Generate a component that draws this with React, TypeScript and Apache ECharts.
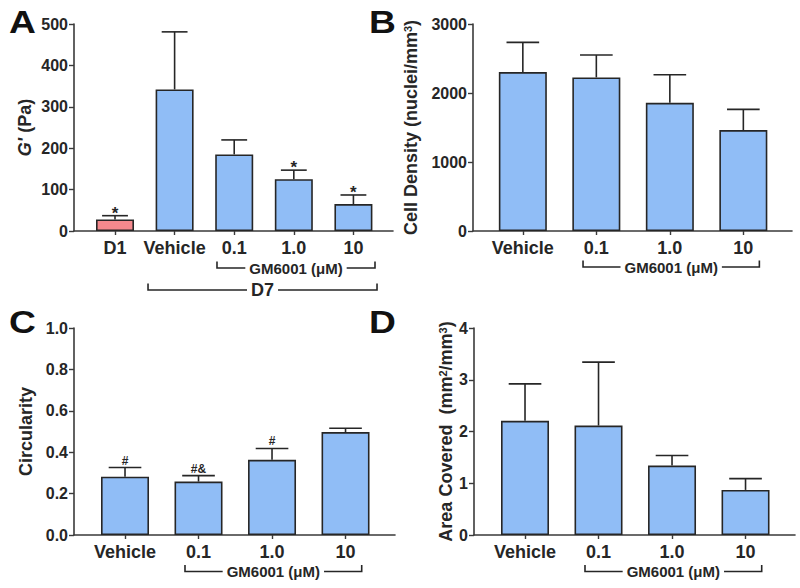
import React, { useEffect, useRef } from 'react';
import * as echarts from 'echarts';

// ---------- data ----------
const catsA = ['D1', 'Vehicle', '0.1', '1.0', '10'];
const modulusA = [28, 342, 185, 125, 65];
const modulusErrTopA = [37, 481, 220, 147, 87];
const sigA = ['*', '', '', '*', '*'];

const catsBCD = ['Vehicle', '0.1', '1.0', '10'];
const densityB = [2303, 2226, 1858, 1462];
const densityErrTopB = [2734, 2550, 2264, 1762];

const circularityC = [0.282, 0.258, 0.363, 0.497];
const circularityErrTopC = [0.326, 0.287, 0.418, 0.516];
const sigC = ['#', '#&', '#', ''];

const areaD = [2.206, 2.115, 1.342, 0.871];
const areaErrTopD = [2.92, 3.34, 1.535, 1.09];
const sigNone = ['', '', '', ''];

// ---------- styles ----------
const FONT = '"Liberation Sans", Arial, sans-serif';
const BLUE = '#90bdf6';
const PINK = '#f4898d';
const INK = '#262626';
const AXIS = '#3a3a3a';

type Panel = {
  cats: string[];
  values: number[];
  errTop: number[];
  sig: string[];
  colors: string[];
  grid: { left: number; top: number; width: number; height: number };
  xMin: number;
  xMax: number;
  barWidth: number;
  yMax: number;
  yInterval: number;
  yFmt: (v: number) => string;
  yName: string;
  yNameGap: number;
  sigSize: number;
};

const panels: Panel[] = [
  {
    cats: catsA, values: modulusA, errTop: modulusErrTopA, sig: sigA,
    colors: [PINK, BLUE, BLUE, BLUE, BLUE],
    grid: { left: 74, top: 24, width: 319, height: 207 },
    xMin: -0.688, xMax: 4.664, barWidth: 38,
    yMax: 500, yInterval: 100, yFmt: (v) => String(v),
    yName: "{i|G'} (Pa)", yNameGap: 40, sigSize: 17,
  },
  {
    cats: catsBCD, values: densityB, errTop: densityErrTopB, sig: sigNone,
    colors: [BLUE, BLUE, BLUE, BLUE],
    grid: { left: 473, top: 24, width: 319, height: 207 },
    xMin: -0.678, xMax: 3.662, barWidth: 48,
    yMax: 3000, yInterval: 1000, yFmt: (v) => String(v),
    yName: 'Cell Density (nuclei/mm{sup|3})', yNameGap: 53, sigSize: 12,
  },
  {
    cats: catsBCD, values: circularityC, errTop: circularityErrTopC, sig: sigC,
    colors: [BLUE, BLUE, BLUE, BLUE],
    grid: { left: 74, top: 328, width: 321, height: 207 },
    xMin: -0.694, xMax: 3.673, barWidth: 48,
    yMax: 1, yInterval: 0.2, yFmt: (v) => v.toFixed(1),
    yName: 'Circularity', yNameGap: 39, sigSize: 12,
  },
  {
    cats: catsBCD, values: areaD, errTop: areaErrTopD, sig: sigNone,
    colors: [BLUE, BLUE, BLUE, BLUE],
    grid: { left: 474, top: 328, width: 321, height: 207 },
    xMin: -0.694, xMax: 3.673, barWidth: 48,
    yMax: 4, yInterval: 1, yFmt: (v) => String(v),
    yName: 'Area Covered  (mm{sup|2}/mm{sup|3})', yNameGap: 19, sigSize: 12,
  },
];

// bracket spans in x-axis units: [panel, from, to, text, offset below axis, fontSize]
const brackets: [number, number, number, string, number, number][] = [
  [0, 1.711, 4.362, 'GM6001 (\u03bcM)', 37, 15],
  [0, 0.554, 4.396, 'D7', 59, 18],
  [1, 0.819, 3.218, 'GM6001 (\u03bcM)', 36, 15],
  [2, 0.816, 3.22, 'GM6001 (\u03bcM)', 36.5, 15],
  [3, 0.816, 3.22, 'GM6001 (\u03bcM)', 36.5, 15],
];

const letters: [string, number, number][] = [
  ['A', 9, 7],
  ['B', 369, 7],
  ['C', 9, 307],
  ['D', 369, 307],
];

export default function App() {
  const ref = useRef<HTMLDivElement>(null);

  useEffect(() => {
    if (!ref.current) return;
    const chart = echarts.init(ref.current, undefined, { renderer: 'svg' });

    const grids = panels.map((p) => ({ ...p.grid, containLabel: false }));
    const xAxes = panels.map((p, i) => {
      const ticks = p.cats.map((_, k) => k);
      return {
        type: 'value',
        gridIndex: i,
        min: p.xMin,
        max: p.xMax,
        splitLine: { show: false },
        axisLine: { show: true, onZero: false, lineStyle: { color: AXIS, width: 1.6 } },
        axisTick: { show: true, customValues: ticks, length: 4, lineStyle: { color: AXIS, width: 1.4 } },
        axisLabel: {
          customValues: ticks,
          formatter: (v: number) => p.cats[Math.round(v)] ?? '',
          fontSize: 18, fontWeight: 'bold', fontFamily: FONT, color: INK, margin: 8,
        },
      };
    });
    const yAxes = panels.map((p, i) => ({
      type: 'value',
      gridIndex: i,
      min: 0,
      max: p.yMax,
      interval: p.yInterval,
      splitLine: { show: false },
      axisLine: { show: true, onZero: false, lineStyle: { color: AXIS, width: 1.6 } },
      axisTick: { show: true, length: 5, lineStyle: { color: AXIS, width: 1.4 } },
      axisLabel: {
        formatter: p.yFmt, fontSize: 16, fontWeight: 'bold', fontFamily: FONT, color: INK, margin: 6,
      },
      name: p.yName,
      nameLocation: 'middle',
      nameRotate: 90,
      nameGap: p.yNameGap,
      nameTextStyle: {
        fontSize: 18, fontWeight: 'bold', fontFamily: FONT, color: INK,
        rich: {
          sup: { fontSize: 11, fontWeight: 'bold', fontFamily: FONT, color: INK, verticalAlign: 'top', lineHeight: 18 },
          i: { fontSize: 18, fontWeight: 'bold', fontStyle: 'italic', fontFamily: FONT, color: INK },
        },
      },
    }));

    const series: any[] = [];
    panels.forEach((p, i) => {
      series.push({
        type: 'bar',
        xAxisIndex: i,
        yAxisIndex: i,
        barWidth: p.barWidth,
        data: p.values.map((v, k) => ({
          value: [k, v],
          itemStyle: { color: p.colors[k], borderColor: INK, borderWidth: 1.6 },
        })),
        z: 2,
      });
      series.push({
        type: 'custom',
        xAxisIndex: i,
        yAxisIndex: i,
        z: 3,
        data: p.values.map((v, k) => [k, v, p.errTop[k]]),
        renderItem: (params: any, api: any) => {
          const x = api.value(0);
          const base = api.coord([x, api.value(1)]);
          const top = api.coord([x, api.value(2)]);
          const half = (p.barWidth * 0.34);
          const sig = p.sig[params.dataIndex];
          const children: any[] = [
            { type: 'line', shape: { x1: base[0], y1: base[1], x2: top[0], y2: top[1] }, style: { stroke: INK, lineWidth: 1.6 } },
            { type: 'line', shape: { x1: top[0] - half, y1: top[1], x2: top[0] + half, y2: top[1] }, style: { stroke: INK, lineWidth: 1.6 } },
          ];
          if (sig) {
            const isStar = sig === '*';
            children.push({
              type: 'text',
              x: top[0],
              y: top[1] + (isStar ? 6 : -1),
              style: {
                text: sig,
                fontSize: p.sigSize,
                fontWeight: 'bold',
                fontFamily: FONT,
                fill: INK,
                align: 'center',
                verticalAlign: 'bottom',
              },
            });
          }
          return { type: 'group', children };
        },
      });
    });

    chart.setOption({
      animation: false,
      backgroundColor: '#ffffff',
      grid: grids,
      xAxis: xAxes,
      yAxis: yAxes,
      series,
    });

    const graphic: any[] = [];
    letters.forEach(([t, x, y]) => {
      graphic.push({
        type: 'text', x, y, scaleX: 1.2,
        style: { text: t, fontSize: 31, fontWeight: 'bold', fontFamily: FONT, fill: '#111', align: 'left', verticalAlign: 'top' },
      });
    });
    brackets.forEach(([pi, from, to, text, off, fs]) => {
      const x1 = chart.convertToPixel({ xAxisIndex: pi } as any, from) as number;
      const x2 = chart.convertToPixel({ xAxisIndex: pi } as any, to) as number;
      const y0 = chart.convertToPixel({ yAxisIndex: pi } as any, 0) as number;
      const y = y0 + off;
      graphic.push({
        type: 'polyline',
        shape: { points: [[x1, y - 6.5], [x1, y], [x2, y], [x2, y - 6.5]] },
        style: { stroke: INK, lineWidth: 1.6, fill: null },
      });
      graphic.push({
        type: 'text',
        x: (x1 + x2) / 2,
        y,
        z: 10,
        style: {
          text, fontSize: fs, fontWeight: 'bold', fontFamily: FONT, fill: INK,
          align: 'center', verticalAlign: 'middle', backgroundColor: '#ffffff', padding: [0, 4],
        },
      });
    });
    chart.setOption({ graphic });

    return () => chart.dispose();
  }, []);

  return (
    <div
      ref={ref}
      style={{ position: 'absolute', left: 0, top: 0, width: 800, height: 588, background: '#fff' }}
    />
  );
}
